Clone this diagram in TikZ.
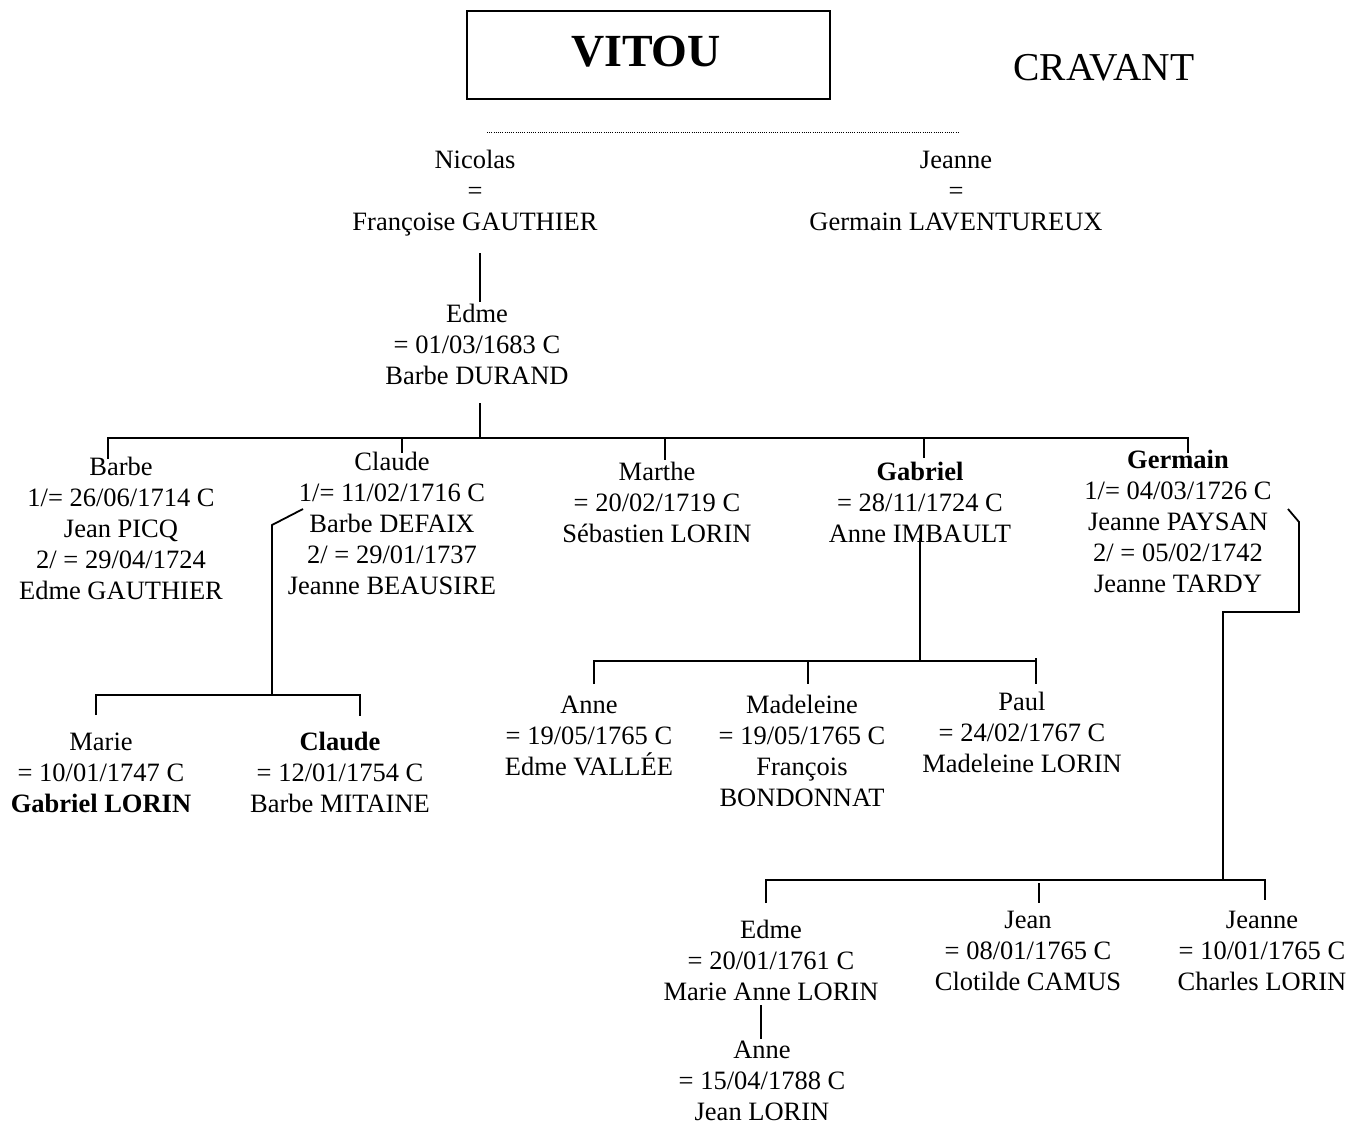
\documentclass[tikz,border=0pt]{standalone}
\usepackage{fontspec}
\setmainfont{Liberation Serif}
\begin{document}
\begin{tikzpicture}[x=1pt,y=-1pt,
  person/.style={align=center, inner sep=0pt, font=\fontsize{26.5}{31}\selectfont},
  link/.style={line width=1.8pt},
  titlebox/.style={draw, line width=2pt, minimum width=363pt, minimum height=88pt, inner sep=0pt},
]
\useasboundingbox (0,0) rectangle (1349,1121);

% title
\node[titlebox] (titlebox) at (648.5,55) {};
\node[inner sep=0pt, font=\fontsize{46}{52}\selectfont\bfseries] (vitou) at (646,52) {VITOU};
\node[inner sep=0pt, font=\fontsize{39.5}{44}\selectfont] (cravant) at (1104,68) {CRAVANT};
\coordinate (dotA) at (487,132);
\coordinate (dotB) at (959,132);
\draw[line width=0.9pt, dash pattern=on 0.9pt off 1.3pt] (dotA) -- (dotB);

% generation 1
\node[person] (nicolas) at (475,193) {\strut Nicolas\\=\\Françoise GAUTHIER\strut};
\node[person] (jeanne) at (956,193) {\strut Jeanne\\=\\Germain LAVENTUREUX\strut};

% generation 2
\node[person] (edme) at (477,347) {\strut Edme\\= 01/03/1683 C\\Barbe DURAND\strut};

% generation 3
\node[person] (barbe) at (121,531) {\strut Barbe\\1/= 26/06/1714 C\\Jean PICQ\\2/ = 29/04/1724\\Edme GAUTHIER\strut};
\node[person] (claude) at (392,526) {\strut Claude\\1/= 11/02/1716 C\\Barbe DEFAIX\\2/ = 29/01/1737\\Jeanne BEAUSIRE\strut};
\node[person] (marthe) at (657,505) {\strut Marthe\\= 20/02/1719 C\\Sébastien LORIN\strut};
\node[person] (gabriel) at (920,505) {\strut\textbf{Gabriel}\\= 28/11/1724 C\\Anne IMBAULT\strut};
\node[person] (germain) at (1178,524) {\strut\textbf{Germain}\\1/= 04/03/1726 C\\Jeanne PAYSAN\\2/ = 05/02/1742\\Jeanne TARDY\strut};

% generation 4
\node[person] (marie) at (101,775) {\strut Marie\\= 10/01/1747 C\\\textbf{Gabriel LORIN}\strut};
\node[person] (claudeb) at (340,775) {\strut\textbf{Claude}\\= 12/01/1754 C\\Barbe MITAINE\strut};
\node[person] (anne) at (589,738) {\strut Anne\\= 19/05/1765 C\\Edme VALLÉE\strut};
\node[person] (madeleine) at (802,754) {\strut Madeleine\\= 19/05/1765 C\\François\\BONDONNAT\strut};
\node[person] (paul) at (1022,735) {\strut Paul\\= 24/02/1767 C\\Madeleine LORIN\strut};
\node[person] (edmeb) at (771,963) {\strut Edme\\= 20/01/1761 C\\Marie Anne LORIN\strut};
\node[person] (jean) at (1028,953) {\strut Jean\\= 08/01/1765 C\\Clotilde CAMUS\strut};
\node[person] (jeanneb) at (1262,953) {\strut Jeanne\\= 10/01/1765 C\\Charles LORIN\strut};

% generation 5
\node[person, anchor=north] (anneb) at (762,1036.3) {\strut Anne\\= 15/04/1788 C\\Jean LORIN};

% connectors: Nicolas -> Edme
\coordinate (nicolasDown) at (480,253);
\coordinate (edmeUp) at (480,302);
\draw[link] (nicolasDown) -- (edmeUp);

% Edme -> children
\coordinate (edmeDown) at (480,403);
\coordinate (busE) at (480,438);
\coordinate (busEL) at (108,438);
\coordinate (busER) at (1188,438);
\coordinate (barbeT) at (108,459);
\coordinate (claudeB) at (402,438);
\coordinate (claudeT) at (402,453);
\coordinate (martheB) at (665,438);
\coordinate (martheT) at (665,460);
\coordinate (gabrielB) at (924,438);
\coordinate (gabrielT) at (924,458);
\coordinate (germainT) at (1188,453);
\draw[link] (edmeDown) -- (busE);
\draw[link] (barbeT) -- (busEL) -- (busER) -- (germainT);
\draw[link] (claudeB) -- (claudeT);
\draw[link] (martheB) -- (martheT);
\draw[link] (gabrielB) -- (gabrielT);

% Claude -> children
\coordinate (claudeS1) at (303,509);
\coordinate (claudeS2) at (272,525);
\coordinate (claudeBus) at (272,695);
\coordinate (claudeBusL) at (96,695);
\coordinate (claudeBusR) at (360,695);
\coordinate (marieT) at (96,715);
\coordinate (claudebT) at (360,716);
\draw[link] (claudeS1) -- (claudeS2) -- (claudeBus);
\draw[link] (marieT) -- (claudeBusL) -- (claudeBusR) -- (claudebT);

% Gabriel -> children
\coordinate (gabrielDown) at (920,538);
\coordinate (gabrielBus) at (920,661);
\coordinate (gabrielBusL) at (594,661);
\coordinate (gabrielBusR) at (1036,661);
\coordinate (anneT) at (594,684);
\coordinate (madeleineB) at (808,661);
\coordinate (madeleineT) at (808,684);
\coordinate (paulTop) at (1036,658);
\coordinate (paulT) at (1036,684);
\draw[link] (gabrielDown) -- (gabrielBus);
\draw[link] (anneT) -- (gabrielBusL) -- (gabrielBusR);
\draw[link] (madeleineB) -- (madeleineT);
\draw[link] (paulTop) -- (paulT);

% Germain -> children
\coordinate (germainS1) at (1288,509);
\coordinate (germainS2) at (1299,522);
\coordinate (germainS3) at (1299,612);
\coordinate (germainS4) at (1223,612);
\coordinate (germainBus) at (1223,880);
\coordinate (germainBusL) at (766,880);
\coordinate (germainBusR) at (1265,880);
\coordinate (edmebT) at (766,903);
\coordinate (jeanTop) at (1039,883);
\coordinate (jeanT) at (1039,903);
\coordinate (jeannebT) at (1265,900);
\draw[link] (germainS1) -- (germainS2) -- (germainS3) -- (germainS4) -- (germainBus);
\draw[link] (edmebT) -- (germainBusL) -- (germainBusR) -- (jeannebT);
\draw[link] (jeanTop) -- (jeanT);

% Edme -> Anne
\coordinate (edmebDown) at (761,1005);
\coordinate (annebUp) at (761,1039);
\draw[link] (edmebDown) -- (annebUp);
\end{tikzpicture}
\end{document}
